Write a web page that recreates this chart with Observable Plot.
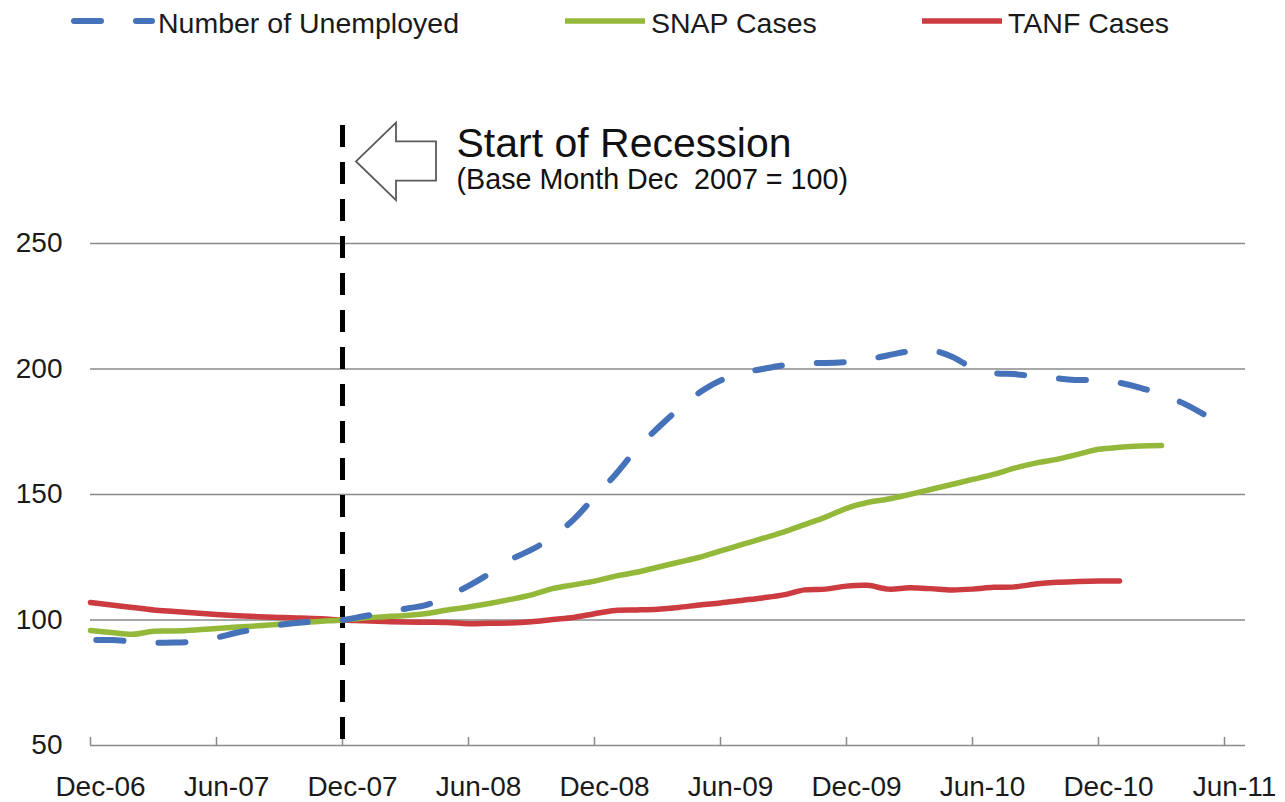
<!DOCTYPE html>
<html>
<head>
<meta charset="utf-8">
<script src="https://cdn.jsdelivr.net/npm/d3@7"></script>
<script src="https://cdn.jsdelivr.net/npm/@observablehq/plot@0.6"></script>
<style>
  html, body { margin: 0; padding: 0; background: #fff; }
  body { width: 1285px; height: 802px; overflow: hidden; font-family: "Liberation Sans", Arial, sans-serif; }
  svg { display: block; }
  svg text { white-space: pre; }
  #legend, #chart { display: block; line-height: 0; }
</style>
</head>
<body>
<div id="legend"></div>
<div id="chart"></div>
<script>
// ---- Data (index values, base month Dec 2007 = 100), monthly from Dec-06 ----
const seriesNames = ["Number of Unemployed", "SNAP Cases", "TANF Cases"];
const seriesColors = ["#4672b9", "#94b93a", "#cc3b3f"];

const unemployed = [
  92, 92, 91.5, 91, 91, 91.5, 93, 95, 96.5, 98, 99, 99.5,
  100, 101.5, 103, 104.5, 106, 109.5, 113.6, 118.5, 124, 128, 133, 140,
  149, 158, 168, 176.4, 184, 190.6, 195.4, 198.3, 200, 201.5, 202.4, 202.4,
  202.8, 203.8, 205.5, 207, 207.5, 205, 200.5, 198.4, 198, 197, 196.3, 195.6,
  195.6, 194.5, 192.5, 189.8, 186.5, 182
];
const snap = [
  95.8, 95, 94.3, 95.5, 95.6, 96, 96.6, 97.2, 97.7, 98.3, 99, 99.5,
  100, 100.8, 101.3, 101.8, 102.6, 104, 105.2, 106.6, 108.2, 110, 112.5, 114,
  115.5, 117.5, 119, 121, 123, 125, 127.5, 130, 132.5, 135, 138, 141,
  144.5, 146.8, 148.2, 150, 152, 154, 156, 158, 160.5, 162.5, 164, 166,
  168, 168.8, 169.3, 169.5
];
const tanf = [
  107, 106, 105, 104, 103.4, 102.8, 102.2, 101.7, 101.3, 101, 100.8, 100.5,
  100, 99.7, 99.4, 99.2, 99.1, 99, 98.5, 98.7, 98.8, 99.3, 100.2, 101,
  102.5, 103.8, 104, 104.3, 105, 106, 106.8, 107.8, 108.8, 110, 112, 112.3,
  113.5, 113.8, 112.3, 112.8, 112.5, 112, 112.3, 113, 113.2, 114.3, 115, 115.3,
  115.5, 115.5
];

const tickMonths = [0, 6, 12, 18, 24, 30, 36, 42, 48, 54];
const tickLabels = ["Dec-06", "Jun-07", "Dec-07", "Jun-08", "Dec-08", "Jun-09", "Dec-09", "Jun-10", "Dec-10", "Jun-11"];
const yTicks = [50, 100, 150, 200, 250];
const gridTicks = [100, 150, 200, 250];

const recessionMonth = 12;          // Dec-07
const annotationTitle = "Start of Recession";
const annotationSubtitle = "(Base Month Dec  2007 = 100)";

// ---- Legend ----
const legendX = [74, 565, 922];
const legendDash = ["27,35", null, null];
const legend = d3.select("#legend").append("svg").attr("width", 1285).attr("height", 45);
seriesNames.forEach((name, i) => {
  const g = legend.append("g").attr("transform", `translate(${legendX[i]},0)`);
  g.append("line")
    .attr("x1", 0).attr("x2", i === 0 ? 78 : 80)
    .attr("y1", 21).attr("y2", 21)
    .attr("stroke", seriesColors[i])
    .attr("stroke-width", i === 0 ? 6 : 5.5)
    .attr("stroke-linecap", i === 0 ? "round" : "butt")
    .attr("stroke-dasharray", legendDash[i]);
  g.append("text")
    .attr("x", i === 0 ? 84 : 86).attr("y", 33)
    .attr("font-family", "Liberation Sans, Arial, sans-serif")
    .attr("font-size", 28.5)
    .attr("fill", "#1a1a1a")
    .text(name);
});

// ---- Custom outline arrow symbol (points left) ----
const leftArrow = {
  draw(ctx, size) {
    const s = Math.sqrt(size / Math.PI);
    ctx.moveTo(-s, 0);
    ctx.lineTo(0, -0.97 * s);
    ctx.lineTo(0, -0.5 * s);
    ctx.lineTo(s, -0.5 * s);
    ctx.lineTo(s, 0.48 * s);
    ctx.lineTo(0, 0.48 * s);
    ctx.lineTo(0, 0.97 * s);
    ctx.closePath();
  }
};

const gray = "#8a8a8a";

const chart = Plot.plot({
  width: 1285,
  height: 757,
  marginLeft: 90,
  marginRight: 40,
  marginTop: 72.5,
  marginBottom: 57,
  style: { fontFamily: "Liberation Sans, Arial, sans-serif", color: "#1a1a1a", background: "#fff" },
  x: { domain: [0, 55], axis: null },
  y: { domain: [50, 300], axis: null },
  marks: [
    Plot.ruleY(gridTicks, { stroke: gray, strokeWidth: 1.5 }),
    Plot.ruleY([50], { stroke: gray, strokeWidth: 1.5 }),
    Plot.ruleX(tickMonths, { y1: 50, y2: 53.2, stroke: gray, strokeWidth: 1.5 }),
    Plot.axisX(tickMonths, {
      tickSize: 0, tickPadding: 31, dx: 10, fontSize: 28,
      tickFormat: (d) => tickLabels[tickMonths.indexOf(d)]
    }),
    Plot.axisY(yTicks, { tickSize: 0, tickPadding: 28, fontSize: 28, tickFormat: d => String(d) }),
    Plot.ruleX([recessionMonth], { y1: 297, y2: 50, stroke: "#000", strokeWidth: 5, strokeDasharray: "22,15" }),
    Plot.line(tanf, { x: (d, i) => i, y: d => d, stroke: seriesColors[2], strokeWidth: 5.5, curve: "catmull-rom", strokeLinecap: "round" }),
    Plot.line(snap, { x: (d, i) => i, y: d => d, stroke: seriesColors[1], strokeWidth: 5.5, curve: "catmull-rom", strokeLinecap: "round" }),
    Plot.line(unemployed, { x: (d, i) => i, y: d => d, stroke: seriesColors[0], strokeWidth: 6, curve: "catmull-rom", strokeLinecap: "round", strokeDasharray: "27,35", strokeDashoffset: -6 }),
    Plot.dot([recessionMonth], { x: d => d, y: () => 282.7, dx: 53.5, r: 40, symbol: leftArrow, fill: "#fff", stroke: "#5a5a5a", strokeWidth: 1.8 }),
    Plot.text([annotationTitle], { x: () => recessionMonth, y: () => 284.5, dx: 114, text: d => d, textAnchor: "start", lineAnchor: "bottom", fontSize: 41, fill: "#111" }),
    Plot.text([annotationSubtitle], { x: () => recessionMonth, y: () => 271.9, dx: 114, text: d => d, textAnchor: "start", lineAnchor: "bottom", fontSize: 28.7, fill: "#111" })
  ]
});
document.getElementById("chart").appendChild(chart);
</script>
</body>
</html>
